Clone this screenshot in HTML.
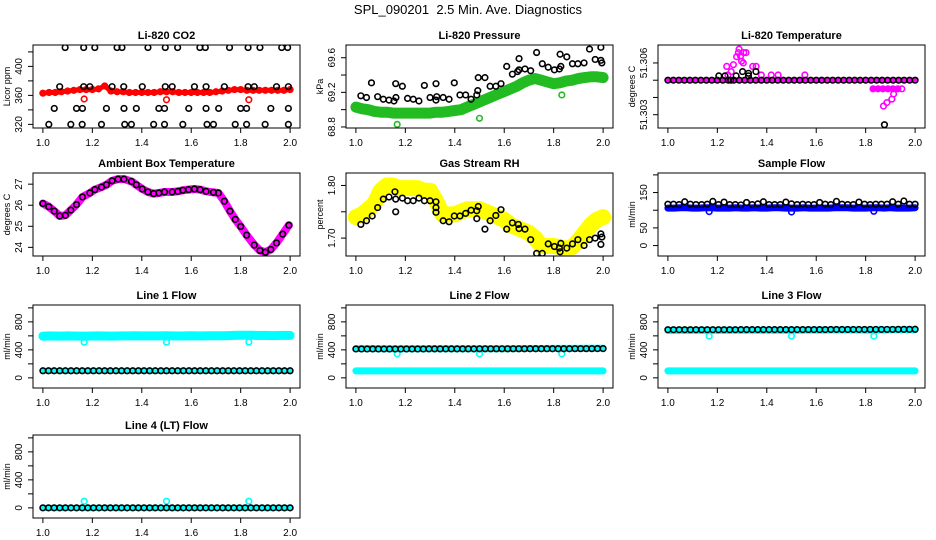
<!DOCTYPE html>
<html><head><meta charset="utf-8">
<style>
html,body{margin:0;padding:0;background:#fff;}
svg{display:block;font-family:"Liberation Sans",Arial,sans-serif;}
</style></head>
<body>
<svg id="chart" width="936" height="540" viewBox="0 0 936 540" xmlns="http://www.w3.org/2000/svg">
<rect x="0" y="0" width="936" height="540" fill="#fff"/>
<text x="468" y="14" text-anchor="middle" font-size="13" xml:space="preserve">SPL_090201  2.5 Min. Ave. Diagnostics</text>
</svg>
<script>
// ---------- data ----------
// CO2
const co2Red = [363,364,364,365,366,367,368,368,368,369,373,366,365,365,364,364,364,364,364,365,365,365,364,364,364,364,364,364,365,366,367,368,368,367,367,367,367,367,367,367,368];
const co2RedOutX = [1.167,1.5,1.833];
const co2RedOutY = [355,354,354];
const co2BlkX = [1.09,1.165,1.21,1.30,1.32,1.425,1.495,1.545,1.635,1.657,1.755,1.83,1.878,1.966,1.99,
 1.068,1.165,1.19,1.28,1.327,1.402,1.495,1.523,1.613,1.66,1.734,1.83,1.855,1.945,1.993,
 1.046,1.136,1.16,1.257,1.328,1.378,1.469,1.492,1.59,1.66,1.711,1.8,1.824,1.922,1.993,
 1.024,1.113,1.159,1.237,1.331,1.358,1.448,1.492,1.566,1.664,1.69,1.778,1.824,1.899,1.993];
const co2BlkY = [426,426,426,426,426,426,426,426,426,426,426,426,426,426,426,
 372,372,372,372,372,372,372,372,372,372,372,372,372,372,372,
 342,342,342,342,342,342,342,342,342,342,342,342,342,342,342,
 320,320,320,320,320,320,320,320,320,320,320,320,320,320,320];
// Pressure
const presGreen = [69.03,69.01,69.0,68.98,68.97,68.97,68.96,68.96,68.96,68.96,68.96,68.96,68.96,68.97,68.97,68.98,68.99,69.0,69.03,69.06,69.09,69.12,69.15,69.18,69.21,69.24,69.27,69.31,69.34,69.36,69.34,69.32,69.30,69.31,69.33,69.34,69.36,69.37,69.38,69.38,69.37];
const presOutX = [1.167,1.5,1.833];
const presOutY = [68.83,68.9,69.17];
const presBlkX = [1.020,1.043,1.063,1.088,1.111,1.134,1.154,1.161,1.162,1.188,1.209,1.232,1.255,1.277,1.300,1.324,1.327,1.324,1.353,1.377,1.398,1.421,1.444,1.466,1.489,1.493,1.495,1.522,1.543,1.566,1.587,1.610,1.633,1.654,1.660,1.660,1.684,1.707,1.731,1.754,1.778,1.803,1.823,1.826,1.829,1.853,1.876,1.898,1.923,1.945,1.968,1.991,1.991,1.995];
const presBlkY = [69.16,69.14,69.31,69.15,69.12,69.11,69.10,69.30,69.14,69.27,69.13,69.12,69.10,69.28,69.14,69.30,69.15,69.11,69.14,69.12,69.31,69.17,69.17,69.12,69.17,69.22,69.37,69.37,69.27,69.27,69.30,69.50,69.41,69.44,69.59,69.46,69.47,69.45,69.66,69.53,69.49,69.46,69.47,69.64,69.50,69.61,69.53,69.53,69.54,69.70,69.58,69.72,69.57,69.54];
// Li-820 temperature
const tBase = 51.305;
const tMagX = [1.238,1.256,1.265,1.278,1.285,1.288,1.294,1.298,1.307,1.316,1.305,1.243,1.343,1.357,1.378,1.418,1.446,1.554,1.872,1.886,1.906,1.913,1.946,1.83,1.85,1.87,1.89,1.91,1.93];
const tMagY = [51.3058,51.3055,51.3059,51.30636,51.3066,51.3068,51.3064,51.3061,51.3066,51.3066,51.3060,51.3053,51.3058,51.3058,51.3053,51.3053,51.3053,51.3053,51.3035,51.3037,51.3039,51.3042,51.3045,51.3045,51.3045,51.3045,51.3045,51.3045,51.3045];
const tBlkX = [1.206,1.231,1.254,1.276,1.302,1.326,1.326,1.356,1.876];
const tBlkY = [51.30525,51.30525,51.305,51.30525,51.3055,51.3054,51.30525,51.3055,51.30242];
// Ambient box temperature
const ambX = [1.0,1.024,1.046,1.068,1.091,1.113,1.136,1.160,1.19,1.21,1.237,1.257,1.28,1.304,1.328,1.358,1.378,1.402,1.425,1.448,1.469,1.492,1.523,1.546,1.566,1.589,1.613,1.636,1.66,1.69,1.71,1.734,1.757,1.778,1.8,1.824,1.855,1.878,1.9,1.922,1.945,1.97,1.995];
const ambY = [26.08,25.93,25.72,25.49,25.52,25.77,26.03,26.39,26.58,26.74,26.86,26.97,27.16,27.24,27.24,27.13,26.97,26.77,26.63,26.55,26.58,26.63,26.63,26.66,26.71,26.74,26.77,26.74,26.66,26.61,26.58,26.19,25.72,25.33,24.99,24.58,24.11,23.85,23.77,23.9,24.21,24.63,25.05];
// Gas stream RH
const rhYellow = [1.74,1.745,1.755,1.765,1.79,1.80,1.80,1.795,1.795,1.795,1.795,1.79,1.79,1.77,1.745,1.745,1.745,1.75,1.755,1.755,1.755,1.75,1.745,1.74,1.735,1.725,1.72,1.715,1.71,1.70,1.685,1.685,1.685,1.683,1.68,1.683,1.695,1.71,1.725,1.735,1.74];
const rhBlkX = [1.020,1.043,1.066,1.088,1.111,1.134,1.158,1.161,1.161,1.188,1.209,1.232,1.255,1.277,1.300,1.324,1.324,1.324,1.353,1.377,1.398,1.421,1.444,1.466,1.489,1.489,1.495,1.522,1.543,1.566,1.587,1.610,1.633,1.657,1.660,1.684,1.707,1.731,1.754,1.778,1.803,1.823,1.826,1.829,1.853,1.876,1.898,1.923,1.945,1.968,1.991,1.995,1.991];
const rhBlkY = [1.726,1.733,1.742,1.758,1.774,1.778,1.788,1.774,1.750,1.776,1.771,1.771,1.776,1.771,1.771,1.769,1.758,1.749,1.733,1.731,1.742,1.742,1.747,1.753,1.752,1.737,1.760,1.717,1.733,1.743,1.754,1.717,1.729,1.726,1.718,1.717,1.697,1.671,1.671,1.689,1.684,1.681,1.674,1.690,1.681,1.689,1.697,1.686,1.697,1.700,1.708,1.702,1.688];
// Sample flow
const sfBlue = [106,106,107,107,106,106,107,107,106,106,106,107,106,106,107,106,106,107,107,106,106,106,107,106,106,106,106,107,107,107,106,106,106,107,107,106,107,106,106,106,107];
const sfBlueOutX = [1.167,1.5,1.833];
const sfBlueOutY = [96,95,97];
const sfBlack = [117,117,116,124,117,116,116,117,125,116,123,116,116,115,122,116,118,124,116,116,116,123,118,116,117,116,116,122,117,116,125,117,116,116,123,117,116,117,117,117,124,117,126,117,117];
// Line flows
const l1Cyan = [595,600,598,596,600,598,597,596,598,600,598,597,598,599,600,601,600,600,599,600,602,600,598,600,601,600,599,601,602,603,604,606,608,610,608,605,606,604,605,606,606];
const l1CyanLow = [100,100,100,100,100,100,100,100,100,100,100];
const l1OutX = [1.167,1.5,1.833];
const l1OutY = [510,510,512];
const l1Black = [101,101,101,101,101,101,101,101,101,101,101,101,101,101,101,101,101,101,101,101,101,101,101,101,101,101,101,101,101,101,101,101,101,101,101,101,101,101,101,101,101,101,101,101,101];
const l2Cyan = [418,418,420,416,415,414,415,415,416,416,416,415,415,415,416,416,416,417,417,418,419,420,420,420,421,421,421,421,422,422,422];
const l2CyanLow = [100,100,100,100,100,100,100,100,100,100,100];
const l2OutX = [1.167,1.5,1.833];
const l2OutY = [343,343,343];
const l2Black = [413,413,413,413,413,413,413,413,413,413,413,413,413,414,414,414,414,414,414,414,414,414,415,415,415,415,415,415,415,415,415,416,416,416,416,416,416,416,416,417,417,417,417,418,418];
const l3Cyan = [676,678,678,678,678,678,678,679,679,679,680,680,680,680,680,681,681,682,683,683,684,685,684,684,683,683,684,685,686,686,687];
const l3CyanLow = [100,100,100,100,100,100,100,100,100,100,100];
const l3OutX = [1.167,1.5,1.833];
const l3OutY = [597,597,597];
const l3Black = [688,688,688,688,688,688,688,688,688,688,688,688,688,689,689,689,689,689,689,689,689,689,689,690,690,690,690,690,690,691,691,691,691,691,691,691,692,692,692,692,692,693,693,693,694];
const l4Cyan = [0,0,0,0,0,0,0,0,0,0,0,0,0,0,0,0,0,0,0,0,0,0,0,0,0,0,0,0,0,0,0];
const l4OutX = [1.167,1.5,1.833];
const l4OutY = [95,95,95];
const l4Black = [0,0,0,0,0,0,0,0,0,0,0,0,0,0,0,0,0,0,0,0,0,0,0,0,0,0,0,0,0,0,0,0,0,0,0,0,0,0,0,0,0,0,0,0,0];
const xTicks = [1.0,1.2,1.4,1.6,1.8,2.0];
const xTickLabels = ["1.0","1.2","1.4","1.6","1.8","2.0"];

// ---------- drawing ----------
const NS = "http://www.w3.org/2000/svg";
const svg = document.getElementById("chart");
function mk(tag, parent, attrs){
  const e = document.createElementNS(NS, tag);
  for (const k in attrs) e.setAttribute(k, attrs[k]);
  parent.appendChild(e);
  return e;
}
function even(n){ const a=[]; for(let i=0;i<n;i++) a.push(1 + i/(n-1)); return a; }

const colLeft = [33, 346, 658];
const rowTop = [45, 173, 305, 435];
const BW = 267, BH = 83;

function panel(name, title, ylab, col, row, ydom, yticks, ylabels, fmt){
  const x0 = colLeft[col], y0 = rowTop[row], x1 = x0+BW, y1 = y0+BH;
  const g = mk("g", svg, {});
  
  
  const sx = v => x0 + (v - 0.96) / 1.08 * BW;
  const sy = v => y1 - (v - ydom[0]) / (ydom[1] - ydom[0]) * BH;
  const t = mk("text", g, {x: x0+BW/2, y: y0-6, "text-anchor":"middle", "font-size":"11", "font-weight":"bold"});
  t.textContent = title;
  
  
  const clip = mk("clipPath", g, {id: name+"-clip"});
  mk("rect", clip, {x:x0, y:y0, width:BW, height:BH});
  const plot = mk("g", g, {"clip-path": "url(#"+name+"-clip)"});
  
  
  const box = mk("rect", g, {x:x0, y:y0, width:BW, height:BH, fill:"none", stroke:"#000", "stroke-width":"1"});
  
  
  const xa = mk("g", g, {});
  
  
  mk("line", xa, {x1:sx(xTicks[0]), x2:sx(xTicks[xTicks.length-1]), y1:y1, y2:y1, stroke:"#000"});
  xTicks.forEach((v,i)=>{
    mk("line", xa, {x1:sx(v), x2:sx(v), y1:y1, y2:y1+5, stroke:"#000"});
    const tl = mk("text", xa, {x:sx(v), y:y1+18, "text-anchor":"middle", "font-size":"10"});
    tl.textContent = xTickLabels[i];
    
    
  });
  const ya = mk("g", g, {});
  
  
  mk("line", ya, {x1:x0, x2:x0, y1:sy(yticks[0]), y2:sy(yticks[yticks.length-1]), stroke:"#000"});
  yticks.forEach(v=>{
    mk("line", ya, {x1:x0-5, x2:x0, y1:sy(v), y2:sy(v), stroke:"#000"});
  });
  ylabels.forEach(v=>{
    const yy = sy(v), xx = x0-11;
    const tl = mk("text", ya, {x:xx, y:yy, "text-anchor":"middle", "font-size":"10", transform:"rotate(-90 "+xx+" "+yy+")"});
    tl.textContent = fmt(v);
    
    
  });
  const yl = mk("text", g, {x:x0-23, y:y0+BH/2, "text-anchor":"middle", "font-size":"9", transform:"rotate(-90 "+(x0-23)+" "+(y0+BH/2)+")"});
  yl.textContent = ylab;
  
  
  return {sx, sy, plot};
}

function band(p, xs, ys, color, w, name){
  const pts = xs.map((x,i)=> p.sx(x).toFixed(1)+","+p.sy(ys[i]).toFixed(1)).join(" ");
  const pl = mk("polyline", p.plot, {points:pts, fill:"none", stroke:color, "stroke-width":w, "stroke-linejoin":"round", "stroke-linecap":"round"});
  
  
}
function points(p, xs, ys, color, name, r){
  const g = mk("g", p.plot, {});
  
  
  xs.forEach((x,i)=>{
    const c = mk("circle", g, {cx:p.sx(x), cy:p.sy(ys[i]), r:(r||2.8), fill:"none", stroke:color, "stroke-width":"1.6"});
    
    
  });
}
const f0 = v => String(v);
const f1 = v => v.toFixed(1);
const f2 = v => v.toFixed(2);
const f3 = v => v.toFixed(3);

let p = panel("co2", "Li-820 CO2", "Licor ppm", 0, 0, [315, 429.5], [320,340,360,380,400,420], [320,360,400], f0);
band(p, even(co2Red.length), co2Red, "#ff0000", 5, "co2-red-band");
points(p, even(co2Red.length), co2Red, "#ff0000", "co2-red-series");
points(p, co2RedOutX, co2RedOutY, "#ff0000", "co2-red-outliers");
points(p, co2BlkX, co2BlkY, "#000", "co2-black-series");

p = panel("pressure", "Li-820 Pressure", "kPa", 1, 0, [68.788, 69.747], [68.8,69.0,69.2,69.4,69.6], [68.8,69.2,69.6], f1);
band(p, even(presGreen.length), presGreen, "#22bb22", 11, "pressure-green-band");
points(p, presOutX, presOutY, "#22bb22", "pressure-green-outliers");
points(p, presBlkX, presBlkY, "#000", "pressure-black-series");

p = panel("li820-temp", "Li-820 Temperature", "degrees C", 2, 0, [51.30223, 51.30704], [51.303,51.304,51.305,51.306], [51.303,51.306], f3);
const tBaseX = even(46);
const tBaseY = tBaseX.map(()=>tBase);
band(p, [1.0,2.0], [tBase,tBase], "#ff00ff", 5, "li820-temp-magenta-line");
band(p, [1.83,1.93], [51.3045,51.3045], "#ff00ff", 5, "li820-temp-magenta-segment");
points(p, tMagX, tMagY, "#ff00ff", "li820-temp-magenta-series");
points(p, tBaseX, tBaseY, "#000", "li820-temp-black-baseline");
points(p, tBlkX, tBlkY, "#000", "li820-temp-black-series");

p = panel("ambient", "Ambient Box Temperature", "degrees C", 0, 1, [23.59, 27.53], [24,25,26,27], [24,25,26,27], f0);
band(p, ambX, ambY, "#ff00ff", 8, "ambient-magenta-band");
points(p, ambX, ambY, "#000", "ambient-black-series");

p = panel("rh", "Gas Stream RH", "percent", 1, 1, [1.666, 1.8237], [1.70,1.75,1.80], [1.70,1.80], f2);
band(p, even(rhYellow.length), rhYellow, "#ffff00", 16, "rh-yellow-band");
points(p, rhBlkX, rhBlkY, "#000", "rh-black-series");

p = panel("sample-flow", "Sample Flow", "ml/min", 2, 1, [-29.5, 205.3], [0,50,100,150,200], [0,50,150], f0);
band(p, even(sfBlue.length), sfBlue, "#0000ff", 7, "sample-flow-blue-band");
points(p, sfBlueOutX, sfBlueOutY, "#0000ff", "sample-flow-blue-outliers");
points(p, even(sfBlack.length), sfBlack, "#000", "sample-flow-black-series");

const flowTicks = [0,200,400,600,800,1000];
const flowLabels = [0,400,800];
p = panel("line1", "Line 1 Flow", "ml/min", 0, 2, [-145, 1041], flowTicks, flowLabels, f0);
band(p, even(l1Cyan.length), l1Cyan, "#00ffff", 9, "line1-cyan-band");
band(p, even(l1CyanLow.length), l1CyanLow, "#00ffff", 6, "line1-cyan-low-band");
points(p, l1OutX, l1OutY, "#00ffff", "line1-cyan-outliers");
points(p, even(l1Black.length), l1Black, "#000", "line1-black-series");

p = panel("line2", "Line 2 Flow", "ml/min", 1, 2, [-145, 1041], flowTicks, flowLabels, f0);
band(p, even(l2Cyan.length), l2Cyan, "#00ffff", 7, "line2-cyan-band");
band(p, even(l2CyanLow.length), l2CyanLow, "#00ffff", 7, "line2-cyan-low-band");
points(p, l2OutX, l2OutY, "#00ffff", "line2-cyan-outliers");
points(p, even(l2Black.length), l2Black, "#000", "line2-black-series");

p = panel("line3", "Line 3 Flow", "ml/min", 2, 2, [-145, 1041], flowTicks, flowLabels, f0);
band(p, even(l3Cyan.length), l3Cyan, "#00ffff", 7, "line3-cyan-band");
band(p, even(l3CyanLow.length), l3CyanLow, "#00ffff", 7, "line3-cyan-low-band");
points(p, l3OutX, l3OutY, "#00ffff", "line3-cyan-outliers");
points(p, even(l3Black.length), l3Black, "#000", "line3-black-series");

p = panel("line4", "Line 4 (LT) Flow", "ml/min", 0, 3, [-145, 1041], flowTicks, flowLabels, f0);
band(p, even(l4Cyan.length), l4Cyan, "#00ffff", 6, "line4-cyan-band");
points(p, l4OutX, l4OutY, "#00ffff", "line4-cyan-outliers");
points(p, even(l4Black.length), l4Black, "#000", "line4-black-series");
</script>
</body></html>
